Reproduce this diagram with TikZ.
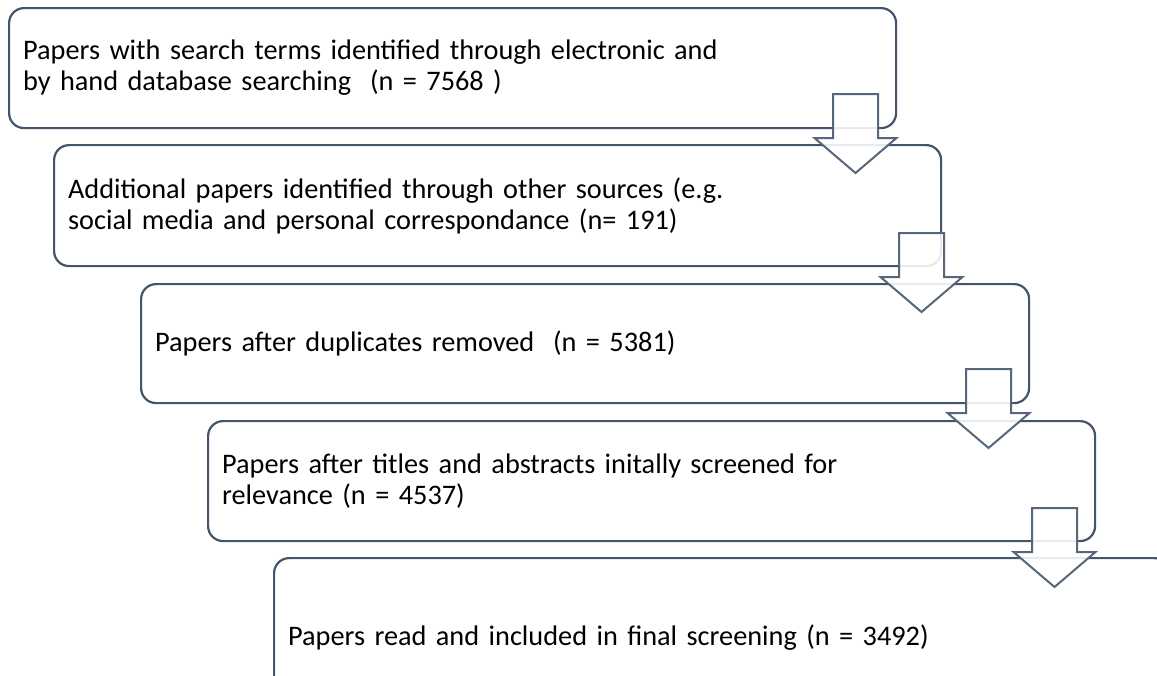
\documentclass[tikz,border=0pt]{standalone}
\usepackage{fontspec}
\setmainfont{Carlito}
\definecolor{boxline}{HTML}{44546A}
\definecolor{arrline}{HTML}{56667B}
\tikzset{
  stagebox/.style={draw=boxline, line width=2.2pt, rounded corners=15pt, fill=white,
    inner xsep=14pt, inner ysep=0pt, align=left, anchor=north west,
    font=\fontsize{28.3}{31}\selectfont, text=black},
  blockarrowline/.style={draw=arrline, line width=2pt, fill=white, fill opacity=0.88, line join=miter},
  pics/blockarrow/.style={code={
    \path[blockarrowline] (-22.5,0) -- (22.5,0) -- (22.5,44) -- (41,44) -- (0,79)
      -- (-41,44) -- (-22.5,44) -- cycle;}}
}
\begin{document}
\begin{tikzpicture}[x=1pt,y=-1pt]
\useasboundingbox (0,0) rectangle (1157,675);
\fill[white] (0,0) rectangle (1157,675);
\node[stagebox, minimum width=887pt, text width=859pt, minimum height=120pt] (s1) at (8,7)
  {Papers with search terms identified through electronic and\\by hand database searching\ \ (n = 7568 )};
\node[stagebox, minimum width=887pt, text width=859pt, minimum height=121pt] (s2) at (53,144)
  {Additional papers identified through other sources (e.g.\\social media and personal correspondance (n= 191)};
\node[stagebox, minimum width=888pt, text width=860pt, minimum height=119pt] (s3) at (140,283)
  {Papers after duplicates removed\ \ (n = 5381)};
\node[stagebox, minimum width=887pt, text width=859pt, minimum height=120pt] (s4) at (207,420)
  {Papers after titles and abstracts initally screened for\\relevance (n = 4537)};
\node[stagebox, minimum width=895pt, text width=867pt, minimum height=158pt] (s5) at (273,557)
  {Papers read and included in final screening (n = 3492)};
\pic (a1) at (855.5,94) {blockarrow};
\pic (a2) at (921.5,233) {blockarrow};
\pic (a3) at (988.5,369) {blockarrow};
\pic (a4) at (1054.5,508) {blockarrow};
\end{tikzpicture}
\end{document}
